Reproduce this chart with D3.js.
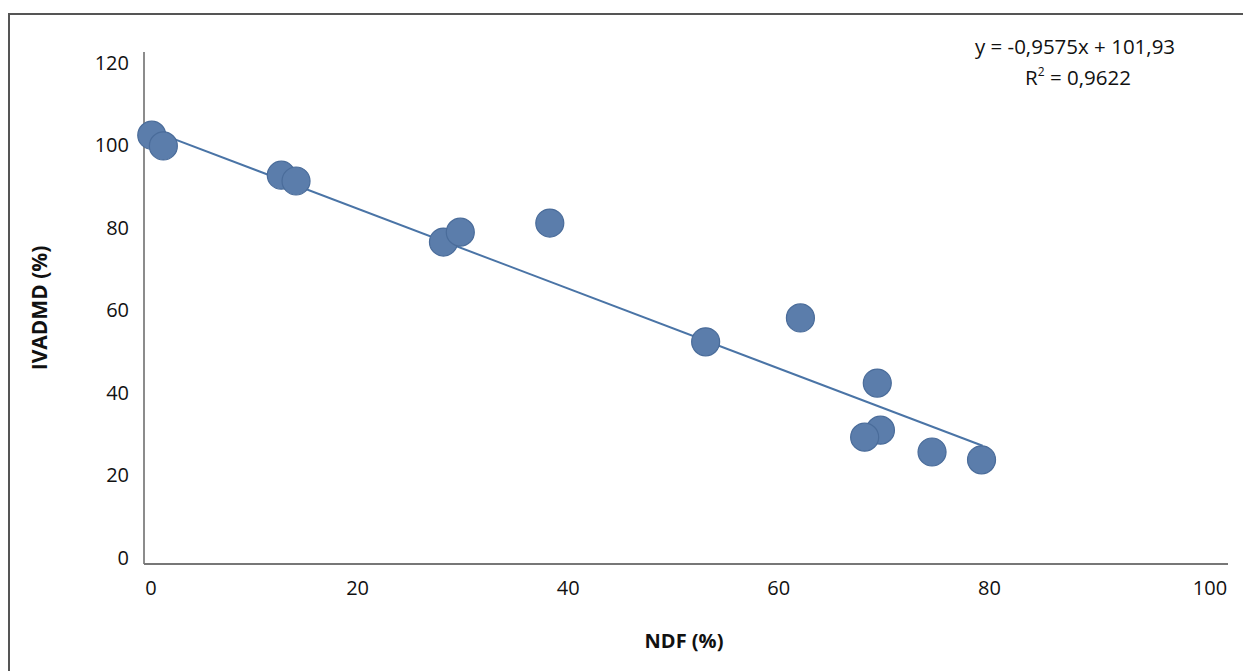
<!DOCTYPE html>
<html>
<head>
<meta charset="utf-8">
<script src="https://cdn.jsdelivr.net/npm/d3@7"></script>
<style>
  body { margin: 0; background: #fff; }
  svg { display: block; font-family: "Open Sans", "Noto Sans", sans-serif; }
</style>
</head>
<body>
<svg id="chart" width="1243" height="671"></svg>
<script>
// values
var ndf    = [0.5, 1.6, 12.8, 14.2, 28.2, 29.8, 38.3, 53.1, 62.1, 69.4, 69.7, 68.2, 74.6, 79.3];
var ivadmd = [102.5, 99.9, 92.8, 91.4, 76.6, 79.0, 81.2, 52.4, 58.2, 42.4, 31.0, 29.3, 25.7, 23.8];
var trendX = [0.5, 79.4];
var trendY = [103.6, 27.2];
var xTicks = [0, 20, 40, 60, 80, 100];
var yTicks = [0, 20, 40, 60, 80, 100, 120];
var eqLines = ["y = -0,9575x + 101,93", "R", "= 0,9622"];

var svg = d3.select("#chart");

var x = d3.scaleLinear().domain([0, 100]).range([146.5, 1199.5]);
var y = d3.scaleLinear().domain([0, 120]).range([558, 63]);

// outer frame (top and left edges only are visible)
svg.append("path")
    .attr("d", "M9,671 V14 H1243")
    .attr("fill", "none")
    .attr("stroke", "#555")
    .attr("stroke-width", 2);

// axis lines
svg.append("line")
    .attr("x1", 144).attr("x2", 144)
    .attr("y1", 52).attr("y2", 564)
    .attr("stroke", "#666").attr("stroke-width", 1.5);
svg.append("line")
    .attr("x1", 144).attr("x2", 1228)
    .attr("y1", 564).attr("y2", 564)
    .attr("stroke", "#777").attr("stroke-width", 2);

// tick labels
var xAxis = svg.append("g")
    .attr("transform", "translate(0,576)")
    .call(d3.axisBottom(x).tickValues(xTicks).tickSize(0).tickPadding(0).tickFormat(d3.format("d")));
xAxis.select(".domain").remove();
xAxis.selectAll("text")
    .attr("dy", "0.95em")
    .style("font-size", "20px")
    .style("font-family", "\"Open Sans\", sans-serif")
    .attr("fill", "#111")
    .attr("dx", function(d) { return d == 0 ? 4 : (d == 100 ? 10 : 0); });

var yAxis = svg.append("g")
    .attr("transform", "translate(129,0)")
    .call(d3.axisLeft(y).tickValues(yTicks).tickSize(0).tickPadding(0).tickFormat(d3.format("d")));
yAxis.select(".domain").remove();
yAxis.selectAll("text")
    .style("font-size", "20px")
    .style("font-family", "\"Open Sans\", sans-serif")
    .attr("fill", "#111");

// trend line
svg.append("line")
    .attr("x1", x(trendX[0])).attr("y1", y(trendY[0]))
    .attr("x2", x(trendX[1])).attr("y2", y(trendY[1]))
    .attr("stroke", "#4a74a6")
    .attr("stroke-width", 2);

// points
var points = ndf.map(function(v, i) { return {x: v, y: ivadmd[i]}; });
svg.selectAll("circle.pt")
    .data(points)
    .enter().append("circle")
    .attr("class", "pt")
    .attr("cx", function(d) { return x(d.x); })
    .attr("cy", function(d) { return y(d.y); })
    .attr("r", 14)
    .attr("fill", "#5b7dab")
    .attr("stroke", "#4a6c9a")
    .attr("stroke-width", 1.2);

// axis titles
svg.append("text")
    .attr("x", 684).attr("y", 648)
    .attr("text-anchor", "middle")
    .style("font-size", "20px")
    .style("font-weight", "bold")
    .attr("fill", "#111")
    .text("NDF (%)");

svg.append("text")
    .attr("transform", "translate(47,308) rotate(-90)")
    .attr("text-anchor", "middle")
    .style("font-size", "21px")
    .style("font-weight", "bold")
    .attr("fill", "#111")
    .text("IVADMD (%)");

// regression equation
svg.append("text")
    .attr("x", 1075).attr("y", 54)
    .attr("text-anchor", "middle")
    .style("font-size", "20.5px")
    .attr("fill", "#111")
    .text(eqLines[0]);

var r2 = svg.append("text")
    .attr("x", 1078).attr("y", 85)
    .attr("text-anchor", "middle")
    .style("font-size", "20.5px")
    .attr("fill", "#111");
r2.append("tspan").text(eqLines[1]);
r2.append("tspan").attr("dy", -9).style("font-size", "12px").text("2");
r2.append("tspan").attr("dy", 9).text(" " + eqLines[2]);
</script>
</body>
</html>
